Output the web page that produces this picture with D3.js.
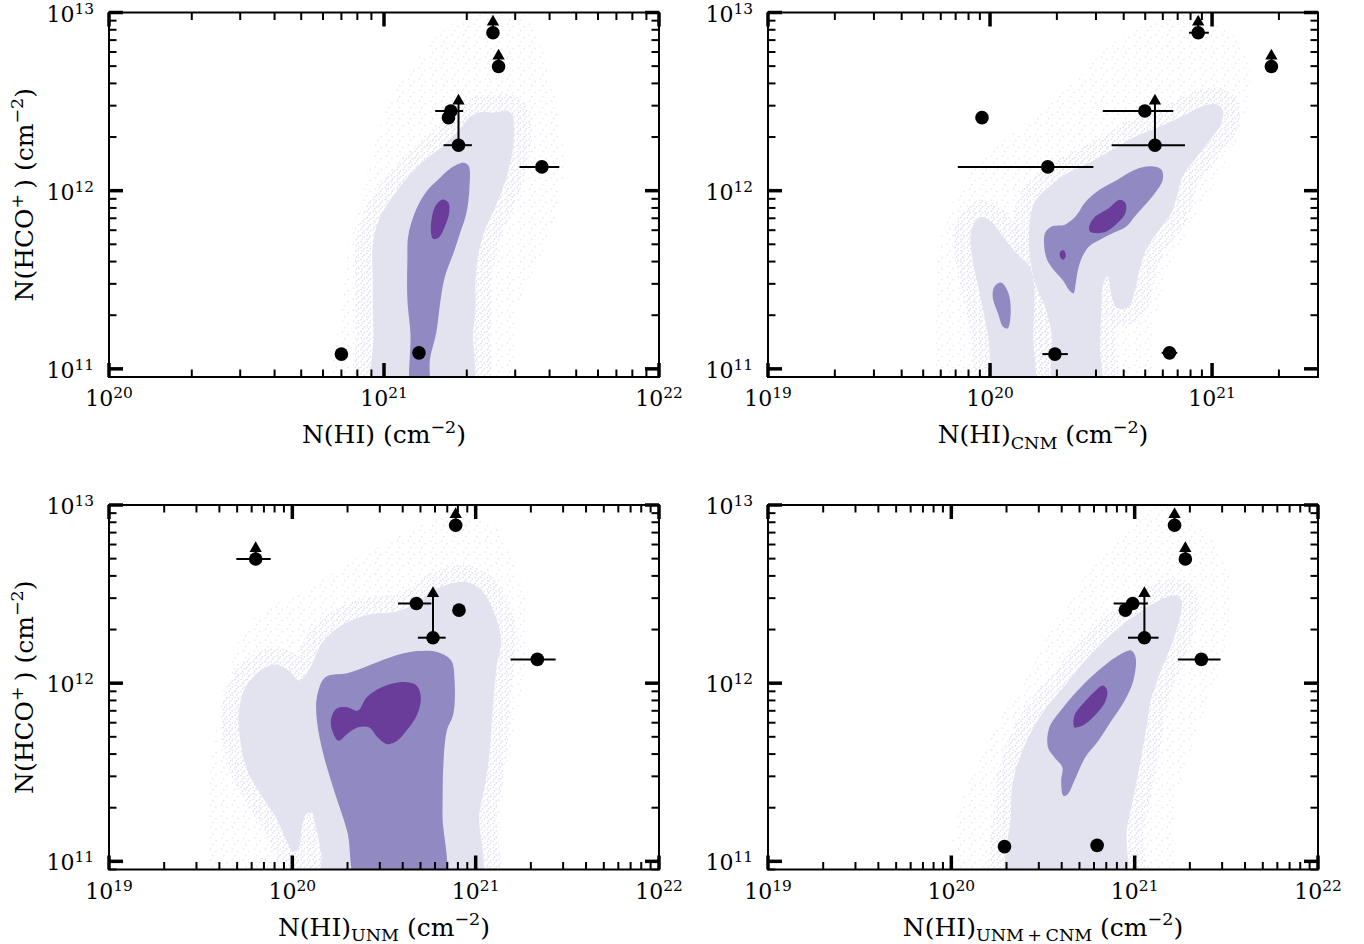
<!DOCTYPE html>
<html>
<head>
<meta charset="utf-8">
<script src="https://cdn.jsdelivr.net/npm/d3@7"></script>
<style>
  body { margin: 0; background: #fff; }
  text { font-family: "DejaVu Serif", serif; fill: #000; }
</style>
</head>
<body>
<div id="chart"></div>
<script>
// N(HCO+) of the sources, and the tip of the lower-limit arrow (null = none)
const hco    = [7.7e12, 4.98e12, 2.80e12, 2.57e12, 1.80e12, 1.36e12, 1.21e11, 1.23e11];
const hcoLim = [8.85e12, 5.7e12, null, null, 3.19e12, null, null, null];

// x values per panel, with horizontal error range (null = no bar)
const xHI    = [2.49e21, 2.61e21, 1.75e21, 1.716e21, 1.866e21, 3.75e21, 7.0e20, 1.34e21];
const xHIlo  = [null, null, 1.535e21, null, 1.646e21, 3.11e21, null, null];
const xHIhi  = [null, null, 1.94e21, null, 2.087e21, 4.34e21, null, null];

const xCNM   = [8.66e20, 1.85e21, 4.98e20, 9.2e19, 5.53e20, 1.82e20, 1.96e20, 6.43e20];
const xCNMlo = [7.87e20, null, 3.22e20, null, 3.53e20, 7.16e19, 1.72e20, 5.93e20];
const xCNMhi = [9.67e20, null, 6.69e20, null, 7.55e20, 2.92e20, 2.24e20, 6.97e20];

const xUNM   = [7.78e20, 6.31e19, 4.75e20, 8.11e20, 5.85e20, 2.17e21, null, null];
const xUNMlo = [null, 4.95e19, 3.77e20, null, 4.84e20, 1.55e21, null, null];
const xUNMhi = [null, 7.62e19, 5.73e20, null, 6.86e20, 2.73e21, null, null];

const xTOT   = [1.65e21, 1.89e21, 9.75e20, 8.9e20, 1.13e21, 2.31e21, 1.95e20, 6.24e20];
const xTOTlo = [null, null, 7.68e20, null, 9.2e20, 1.72e21, null, null];
const xTOThi = [null, null, 1.18e21, null, 1.35e21, 2.94e21, null, null];

// axis ranges and tick labels (exponents of 10)
const yDomain = [9e10, 1e13];
const yTickExp = [11, 12, 13];
const xDomHI = [1e20, 1e22], xTickHI = [20, 21, 22];
const xDomCNM = [1e19, 3e21], xTickCNM = [19, 20, 21];
const xDomWide = [1e19, 1e22], xTickWide = [19, 20, 21, 22];

// density contours, as [log10 x, log10 y]
const cloudHI = [[20.836,10.85],[20.852,11.39],[20.868,11.67],[20.915,11.951],[20.962,12.232],[21.025,12.513],[21.104,12.70],[21.182,12.85],[21.277,12.963],[21.355,13.0],[21.497,13.0],[21.575,12.794],[21.623,12.513],[21.654,12.139],[21.607,11.764],[21.497,11.39],[21.418,10.85]];
const lightHI = [[[20.975,10.85],[20.962,11.203],[20.959,11.483],[20.959,11.689],[20.970,11.783],[20.994,11.876],[21.033,11.970],[21.080,12.064],[21.119,12.129],[21.167,12.195],[21.214,12.251],[21.253,12.307],[21.285,12.363],[21.316,12.419],[21.355,12.442],[21.403,12.438],[21.442,12.448],[21.465,12.429],[21.473,12.363],[21.470,12.251],[21.450,12.101],[21.426,11.989],[21.395,11.876],[21.363,11.764],[21.340,11.614],[21.332,11.483],[21.332,11.333],[21.324,11.202],[21.308,10.85]]];
const midHI = [[[21.104,10.85],[21.096,11.202],[21.085,11.390],[21.085,11.614],[21.088,11.745],[21.112,11.876],[21.151,11.989],[21.198,12.064],[21.245,12.129],[21.289,12.157],[21.308,12.139],[21.311,12.026],[21.300,11.876],[21.277,11.764],[21.253,11.652],[21.222,11.521],[21.206,11.390],[21.190,11.202],[21.167,11.052],[21.159,10.85]]];
const darkHI = [[[21.171,11.764],[21.175,11.858],[21.190,11.923],[21.214,11.951],[21.234,11.933],[21.237,11.876],[21.222,11.801],[21.198,11.736],[21.179,11.730]]];

const cloudCNM = [[19.782,10.85],[19.762,11.386],[19.782,11.762],[19.881,12.043],[20.020,12.231],[20.178,12.40],[20.376,12.606],[20.574,12.85],[20.772,12.962],[20.970,12.991],[21.089,12.887],[21.168,12.70],[21.149,12.418],[21.050,12.137],[20.931,11.856],[20.812,11.574],[20.733,11.199],[20.693,10.85]];
const lightCNM = [
  [[20.036,10.85],[19.990,11.199],[19.950,11.443],[19.917,11.649],[19.917,11.780],[19.956,11.852],[20.004,11.827],[20.059,11.743],[20.119,11.649],[20.178,11.574],[20.198,11.480],[20.194,11.199],[20.188,10.85]],
  [[20.208,11.462],[20.178,11.649],[20.182,11.856],[20.208,11.949],[20.267,12.024],[20.337,12.090],[20.416,12.137],[20.495,12.189],[20.574,12.246],[20.653,12.302],[20.733,12.343],[20.812,12.385],[20.891,12.433],[20.960,12.475],[21.020,12.484],[21.050,12.447],[21.034,12.362],[20.980,12.268],[20.921,12.174],[20.867,12.081],[20.842,11.968],[20.816,11.874],[20.762,11.780],[20.703,11.668],[20.673,11.555],[20.653,11.443],[20.624,11.349],[20.574,11.340],[20.545,11.424],[20.531,11.518],[20.511,11.480],[20.501,11.330],[20.495,11.124],[20.491,10.85],[20.297,10.85],[20.277,11.199],[20.248,11.349]]
];
const midCNM = [
  [[20.248,11.762],[20.277,11.799],[20.337,11.809],[20.386,11.856],[20.426,11.931],[20.495,12.006],[20.574,12.062],[20.653,12.118],[20.723,12.137],[20.772,12.118],[20.778,12.062],[20.743,11.987],[20.693,11.912],[20.653,11.856],[20.614,11.799],[20.554,11.762],[20.495,11.724],[20.446,11.687],[20.416,11.630],[20.396,11.555],[20.386,11.480],[20.376,11.424],[20.356,11.443],[20.327,11.499],[20.287,11.555],[20.257,11.612],[20.244,11.687]],
  [[20.020,11.462],[20.050,11.484],[20.083,11.424],[20.093,11.311],[20.079,11.227],[20.059,11.236],[20.036,11.311],[20.012,11.405]]
];
const darkCNM = [
  [[20.446,11.799],[20.475,11.856],[20.535,11.902],[20.584,11.949],[20.610,11.931],[20.610,11.874],[20.574,11.818],[20.525,11.771],[20.475,11.762],[20.450,11.771]],
  [[20.317,11.659],[20.333,11.664],[20.341,11.630],[20.329,11.612],[20.315,11.630]]
];

const cloudUNM = [[19.591,10.85],[19.543,11.265],[19.567,11.64],[19.638,12.015],[19.732,12.296],[19.874,12.428],[20.063,12.522],[20.299,12.672],[20.536,12.803],[20.772,12.916],[20.961,12.953],[21.126,12.859],[21.244,12.578],[21.292,12.296],[21.244,11.921],[21.173,11.546],[21.126,11.171],[21.103,10.85]];
const lightUNM = [[[21.008,10.85],[21.020,11.265],[21.055,11.452],[21.079,11.640],[21.091,11.827],[21.114,12.090],[21.138,12.240],[21.103,12.390],[21.032,12.522],[20.949,12.568],[20.866,12.559],[20.772,12.522],[20.677,12.447],[20.559,12.400],[20.441,12.390],[20.323,12.353],[20.228,12.296],[20.158,12.221],[20.099,12.090],[20.039,12.015],[19.980,12.071],[19.910,12.105],[19.827,12.071],[19.744,11.977],[19.709,11.846],[19.716,11.677],[19.756,11.508],[19.827,11.377],[19.910,11.246],[19.969,11.114],[20.004,11.054],[20.035,11.077],[20.051,11.189],[20.075,11.265],[20.106,11.274],[20.129,11.189],[20.158,11.039],[20.169,10.85]]];
const midUNM = [[[20.370,10.85],[20.299,11.171],[20.228,11.396],[20.169,11.602],[20.134,11.790],[20.134,11.921],[20.181,12.034],[20.299,12.056],[20.394,12.090],[20.536,12.146],[20.677,12.180],[20.795,12.174],[20.866,12.128],[20.885,12.015],[20.878,11.827],[20.843,11.734],[20.824,11.546],[20.819,11.265],[20.814,10.85]]];
const darkUNM = [[[20.210,11.790],[20.240,11.856],[20.299,11.865],[20.358,11.846],[20.406,11.921],[20.488,11.977],[20.606,12.006],[20.677,11.987],[20.701,11.921],[20.682,11.827],[20.630,11.743],[20.559,11.668],[20.512,11.659],[20.465,11.696],[20.417,11.752],[20.358,11.752],[20.299,11.715],[20.252,11.677],[20.224,11.715]]];

const cloudTOT = [[20.014,10.85],[20.038,11.265],[20.134,11.546],[20.277,11.827],[20.420,12.053],[20.539,12.296],[20.659,12.484],[20.778,12.672],[20.897,12.803],[21.041,12.953],[21.184,12.991],[21.375,12.859],[21.518,12.615],[21.494,12.203],[21.375,11.827],[21.255,11.452],[21.208,11.171],[21.184,10.85]];
const lightTOT = [[[20.325,10.85],[20.325,11.265],[20.337,11.452],[20.396,11.640],[20.492,11.827],[20.611,11.977],[20.730,12.128],[20.874,12.278],[21.017,12.390],[21.136,12.465],[21.220,12.493],[21.255,12.465],[21.243,12.353],[21.196,12.203],[21.136,12.053],[21.088,11.902],[21.064,11.752],[21.029,11.546],[20.993,11.358],[20.957,11.171],[20.933,10.85]]];
const midTOT = [[[20.611,11.368],[20.599,11.452],[20.606,11.527],[20.563,11.583],[20.527,11.640],[20.535,11.752],[20.611,11.865],[20.706,11.977],[20.802,12.071],[20.897,12.146],[20.981,12.184],[21.005,12.146],[20.993,12.015],[20.945,11.902],[20.874,11.790],[20.802,11.677],[20.730,11.583],[20.671,11.452],[20.635,11.377]]];
const darkTOT = [[[20.671,11.752],[20.671,11.818],[20.718,11.884],[20.778,11.949],[20.826,11.987],[20.850,11.959],[20.838,11.893],[20.790,11.827],[20.730,11.771],[20.687,11.752]]];

const cLight = "#e3e2ef", cMid = "#9189c1", cDark = "#6b3d9b";

const panels = [
  { x0: 109, x1: 659, y0: 12.5, y1: 377, xdom: xDomHI, xticks: xTickHI,
    xs: xHI, lo: xHIlo, hi: xHIhi, cloud: cloudHI, light: lightHI, mid: midHI, dark: darkHI,
    sub: null, ylab: true },
  { x0: 768, x1: 1318, y0: 12.5, y1: 377, xdom: xDomCNM, xticks: xTickCNM,
    xs: xCNM, lo: xCNMlo, hi: xCNMhi, cloud: cloudCNM, light: lightCNM, mid: midCNM, dark: darkCNM,
    sub: "CNM", ylab: false },
  { x0: 109, x1: 659, y0: 505, y1: 869.5, xdom: xDomWide, xticks: xTickWide,
    xs: xUNM, lo: xUNMlo, hi: xUNMhi, cloud: cloudUNM, light: lightUNM, mid: midUNM, dark: darkUNM,
    sub: "UNM", ylab: true },
  { x0: 768, x1: 1318, y0: 505, y1: 869.5, xdom: xDomWide, xticks: xTickWide,
    xs: xTOT, lo: xTOTlo, hi: xTOThi, cloud: cloudTOT, light: lightTOT, mid: midTOT, dark: darkTOT,
    sub: "UNM\u2009+\u2009CNM", ylab: false }
];

const svg = d3.select("#chart").append("svg")
    .attr("width", 1364)
    .attr("height", 944);

const defs = svg.append("defs");

// stipple fills standing in for the faint scatter of simulated points
function stipple(id, size, dots, col) {
    const pat = defs.append("pattern")
        .attr("id", id)
        .attr("width", size).attr("height", size)
        .attr("patternUnits", "userSpaceOnUse");
    dots.forEach(c =>
        pat.append("circle").attr("cx", c[0]).attr("cy", c[1]).attr("r", 0.85).attr("fill", col));
}
stipple("sparse", 11, [[1.5, 2.0], [7.0, 4.5], [3.8, 8.6]], "#e7e6f2");
stipple("dense", 6, [[1.2, 1.4], [4.3, 2.8], [2.6, 4.9]], "#e2e0ef");

// log ticks inside a domain
function logTicks(dom) {
    const major = [], minor = [];
    for (let n = Math.floor(Math.log10(dom[0])) - 1; n <= Math.ceil(Math.log10(dom[1])); n++) {
        for (let k = 1; k < 10; k++) {
            const v = k * Math.pow(10, n);
            if (v < dom[0] * 0.999 || v > dom[1] * 1.001) continue;
            (k === 1 ? major : minor).push(v);
        }
    }
    return { major, minor };
}

// text with sub/superscript pieces
function richText(sel, parts, size, supRaise) {
    let shift = 0;
    parts.forEach(p => {
        const t = sel.append("tspan").text(p.t);
        let target = 0;
        if (p.sup) target = -(supRaise || 0.42) * size;
        if (p.sub) target = 0.22 * size;
        t.attr("dy", target - shift);
        shift = target;
        if (p.sup || p.sub) t.attr("font-size", size * 0.7);
    });
}

panels.forEach((p, i) => {
    const x = d3.scaleLog().domain(p.xdom).range([p.x0, p.x1]);
    const y = d3.scaleLog().domain(yDomain).range([p.y1, p.y0]);
    const g = svg.append("g");

    defs.append("clipPath").attr("id", "clip" + i)
        .append("rect")
        .attr("x", p.x0).attr("y", p.y0)
        .attr("width", p.x1 - p.x0).attr("height", p.y1 - p.y0);

    const area = d3.line()
        .x(d => x(Math.pow(10, d[0])))
        .y(d => y(Math.pow(10, d[1])))
        .curve(d3.curveCatmullRomClosed.alpha(0.5));

    const cg = g.append("g").attr("clip-path", `url(#clip${i})`);
    cg.append("path").attr("d", area(p.cloud)).attr("fill", "url(#sparse)");
    // denser halo of points just outside the outer contour
    cg.selectAll(null).data(p.light).enter().append("path")
        .attr("d", d => area(d))
        .attr("fill", "none")
        .attr("stroke", "url(#dense)")
        .attr("stroke-width", 34)
        .attr("stroke-linejoin", "round");
    [[p.light, cLight], [p.mid, cMid], [p.dark, cDark]].forEach(([polys, col]) => {
        cg.selectAll(null).data(polys).enter().append("path")
            .attr("d", d => area(d))
            .attr("fill", col);
    });

    // sources
    const pts = hco.map((v, j) => ({ y: v, x: p.xs[j], lo: p.lo[j], hi: p.hi[j], lim: hcoLim[j] }))
        .filter(d => d.x != null);

    g.selectAll(".xerr").data(pts.filter(d => d.lo != null)).enter().append("line")
        .attr("x1", d => x(d.lo)).attr("x2", d => x(d.hi))
        .attr("y1", d => y(d.y)).attr("y2", d => y(d.y))
        .attr("stroke", "#000").attr("stroke-width", 2);

    const lims = pts.filter(d => d.lim != null);
    g.selectAll(".yerr").data(lims).enter().append("line")
        .attr("x1", d => x(d.x)).attr("x2", d => x(d.x))
        .attr("y1", d => y(d.y)).attr("y2", d => y(d.lim))
        .attr("stroke", "#000").attr("stroke-width", 2);
    g.selectAll(".arrow").data(lims).enter().append("path")
        .attr("d", d3.symbol(d3.symbolTriangle, 66))
        .attr("transform", d => `translate(${x(d.x)},${y(d.lim)})`)
        .attr("fill", "#000");

    g.selectAll(".src").data(pts).enter().append("circle")
        .attr("cx", d => x(d.x)).attr("cy", d => y(d.y))
        .attr("r", 6.8).attr("fill", "#000");

    // frame and ticks (inward on all sides)
    const ax = svg.append("g");
    ax.append("rect")
        .attr("x", p.x0).attr("y", p.y0)
        .attr("width", p.x1 - p.x0).attr("height", p.y1 - p.y0)
        .attr("fill", "none").attr("stroke", "#000").attr("stroke-width", 2);

    const xt = logTicks(p.xdom), yt = logTicks(yDomain);
    const tick = (list, len, w, horiz) => {
        list.forEach(v => {
            if (horiz) {
                const px = x(v);
                ax.append("line").attr("x1", px).attr("x2", px).attr("y1", p.y1).attr("y2", p.y1 - len)
                    .attr("stroke", "#000").attr("stroke-width", w);
                ax.append("line").attr("x1", px).attr("x2", px).attr("y1", p.y0).attr("y2", p.y0 + len)
                    .attr("stroke", "#000").attr("stroke-width", w);
            } else {
                const py = y(v);
                ax.append("line").attr("x1", p.x0).attr("x2", p.x0 + len).attr("y1", py).attr("y2", py)
                    .attr("stroke", "#000").attr("stroke-width", w);
                ax.append("line").attr("x1", p.x1).attr("x2", p.x1 - len).attr("y1", py).attr("y2", py)
                    .attr("stroke", "#000").attr("stroke-width", w);
            }
        });
    };
    tick(xt.minor, 7.5, 2, true);
    tick(xt.major, 14, 3.5, true);
    tick(yt.minor, 7.5, 2, false);
    tick(yt.major, 14, 3.5, false);

    // tick labels
    p.xticks.forEach(e => {
        const t = ax.append("text")
            .attr("x", x(Math.pow(10, e))).attr("y", p.y1 + 29)
            .attr("text-anchor", "middle").attr("font-size", 22);
        richText(t, [{ t: "10" }, { t: String(e), sup: true }], 22, 0.36);
    });
    yTickExp.forEach(e => {
        const t = ax.append("text")
            .attr("x", p.x0 - 15).attr("y", y(Math.pow(10, e)) + 9)
            .attr("text-anchor", "end").attr("font-size", 22);
        richText(t, [{ t: "10" }, { t: String(e), sup: true }], 22, 0.36);
    });

    // axis labels
    const xl = ax.append("text")
        .attr("x", (p.x0 + p.x1) / 2).attr("y", p.y1 + 66)
        .attr("text-anchor", "middle").attr("font-size", 25);
    const parts = [{ t: "N(HI)" }];
    if (p.sub) parts.push({ t: p.sub, sub: true });
    parts.push({ t: " (cm" }, { t: "\u22122", sup: true }, { t: ")" });
    richText(xl, parts, 25);

    if (p.ylab) {
        const cy = (p.y0 + p.y1) / 2;
        const yl = ax.append("text")
            .attr("transform", `translate(33,${cy}) rotate(-90)`)
            .attr("text-anchor", "middle").attr("font-size", 25);
        richText(yl, [{ t: "N(HCO" }, { t: "+", sup: true }, { t: "\u2009) (cm" }, { t: "\u22122", sup: true }, { t: ")" }], 25);
    }
});
</script>
</body>
</html>
